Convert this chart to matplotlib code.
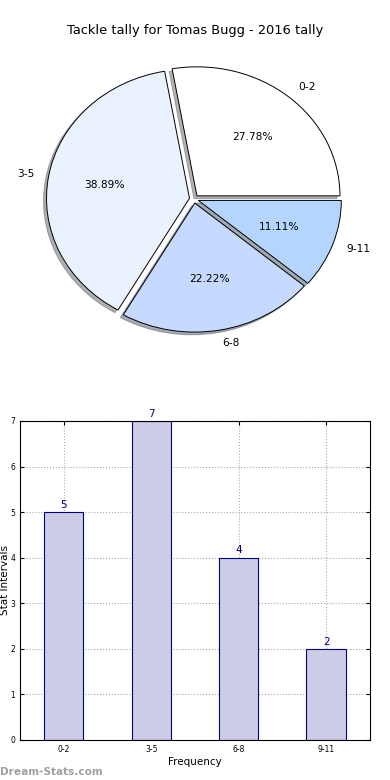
import matplotlib
matplotlib.use("Agg")
import matplotlib.pyplot as plt

title = "Tackle tally for Tomas Bugg - 2016 tally"
categories = ["0-2", "3-5", "6-8", "9-11"]
counts = [5, 7, 4, 2]
pie_colors = ["#ffffff", "#eaf1ff", "#c6d9ff", "#b3d5ff"]
bar_color = "#ccccE6"
bar_edge = "#000080"

fig = plt.figure(figsize=(3.9, 7.8), dpi=100)

# Pie
ax1 = fig.add_axes([0.0391, 0.5381, 0.9167, 0.4135])
wedges, texts, autotexts = ax1.pie(
    counts, labels=categories, colors=pie_colors, explode=[0.032] * len(counts),
    autopct="%.2f%%", shadow={"ox": -0.015, "oy": -0.015, "shade": 0.6}, startangle=0,
    wedgeprops=dict(edgecolor="black", linewidth=0.7),
    textprops=dict(fontsize=7.7))
ax1.set_aspect("auto")
ax1.set_xlim(-1.25, 1.25)
ax1.set_ylim(-1.25, 1.25)
fig.text(0.5, 0.961, title, ha="center", va="center", fontsize=9.4)

# Bars
ax2 = fig.add_axes([0.0513, 0.0513, 0.897, 0.409])
x = list(range(len(categories)))
ax2.bar(x, counts, width=0.45, color=bar_color, edgecolor=bar_edge, linewidth=0.8, zorder=2)
for xi, c in zip(x, counts):
    ax2.text(xi, c + 0.05, str(c), ha="center", va="bottom", color=bar_edge, fontsize=7.5)
ax2.set_xlim(-0.5, len(categories) - 0.5)
ax2.set_ylim(0, max(counts))
ax2.set_xticks(x)
ax2.set_xticklabels(categories)
ax2.set_yticks(range(0, max(counts) + 1))
ax2.tick_params(labelsize=5.5, direction="in", top=True, right=True, length=3)
ax2.grid(True, linestyle=":", color="#aaaaaa", linewidth=0.8, zorder=0)
ax2.set_xlabel("Frequency", fontsize=7.5, labelpad=2)
ax2.set_ylabel("Stat Intervals", fontsize=7.5, labelpad=0.5)

fig.text(0.0, 0.004, "Dream-Stats.com", color="#a0a0a0", fontsize=7.6, fontweight="bold",
         ha="left", va="bottom")

fig.savefig("out.png", dpi=100)
